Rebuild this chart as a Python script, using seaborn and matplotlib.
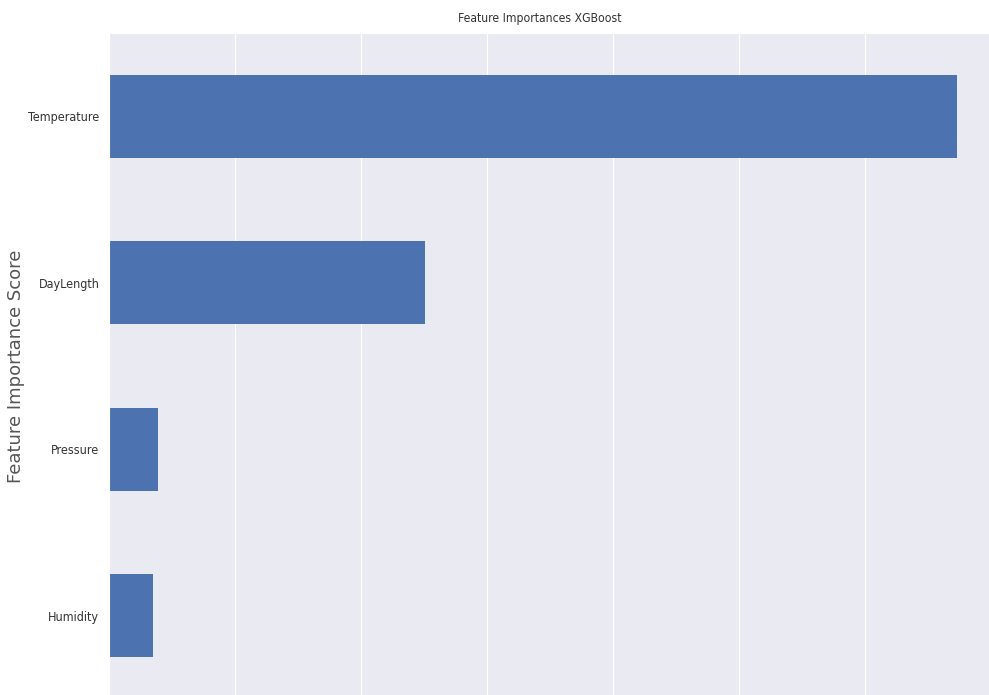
import matplotlib
matplotlib.use("Agg")
import matplotlib.pyplot as plt
import pandas as pd
import seaborn as sns

features = ["Temperature", "DayLength", "Pressure", "Humidity"]
importances = [0.673, 0.251, 0.039, 0.035]

df = pd.DataFrame({"feature": features, "importance": importances})

sns.set_style("darkgrid")

fig = plt.figure(figsize=(9.89, 6.95), dpi=100)
# axes runs past the bottom and right edge, as in the cropped original
ax = fig.add_axes([109 / 989, -4 / 695, 891 / 989, 666 / 695])

sns.barplot(data=df, x="importance", y="feature", order=features,
            orient="h", color="#4c72b0", saturation=1, width=0.5,
            linewidth=0, ax=ax)

ax.set_xlim(0, 0.707)
ax.set_ylim(3.5, -0.5)
ax.set_xlabel("")
ax.set_xticklabels([])
ax.set_ylabel("Feature Importance Score", fontsize=13, color="#555555",
              fontstretch="normal")
ax.yaxis.set_label_coords(-0.094, 0.5)
ax.set_title("Feature Importances XGBoost", fontsize=8.7, color="#333333",
             fontstretch="condensed", x=0.483, pad=8)
for lbl in ax.get_yticklabels():
    lbl.set_fontstretch("condensed")
    lbl.set_fontsize(9)
    lbl.set_color("#333333")

fig.savefig("out.png", dpi=100)
